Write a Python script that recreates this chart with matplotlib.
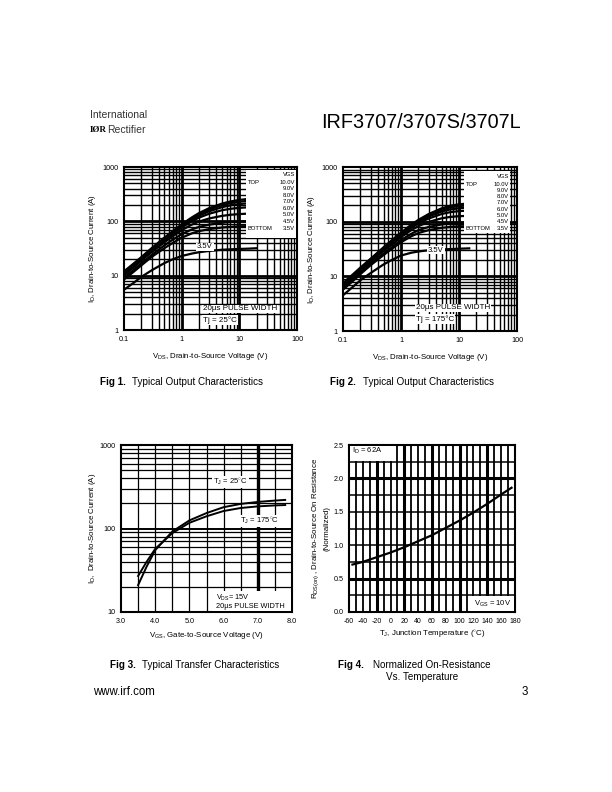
import numpy as np
import matplotlib
matplotlib.use('Agg')
import matplotlib.pyplot as plt
from matplotlib.patches import Rectangle

plt.rcParams['font.family'] = 'Liberation Sans'
plt.rcParams['mathtext.fontset'] = 'custom'
plt.rcParams['mathtext.rm'] = 'Liberation Sans'
plt.rcParams['mathtext.it'] = 'Liberation Sans'
plt.rcParams['mathtext.bf'] = 'Liberation Sans:bold'
plt.rcParams['axes.unicode_minus'] = False

# ---- data ----
vgs_labels = ['10.0V', '9.0V', '8.0V', '7.0V', '6.0V', '5.0V', '4.5V', '3.5V']

# Fig 1, Tj = 25C
vds_25c = [0.1, 0.15, 0.2, 0.3, 0.5, 0.7, 1, 1.5, 2, 3, 5, 7, 10, 15, 20]
id_25c = [
    [12, 17, 22, 32, 50, 66, 88, 118, 142, 175, 212, 232, 248, 260, 265],
    [11.5, 16.5, 21, 31, 48, 64, 85, 113, 135, 165, 198, 216, 230, 240, 244],
    [11, 16, 20.5, 30, 46, 61, 81, 107, 127, 153, 182, 197, 208, 216, 220],
    [10.5, 15.5, 20, 29, 44, 58, 77, 100, 117, 138, 160, 170, 177, 182, 185],
    [10, 14.5, 19, 27, 41, 53, 69, 87, 99, 113, 126, 132, 136, 139, 140],
    [9, 13, 17, 24, 36, 46, 58, 71, 79, 87, 94, 97, 99, 100, 101],
    [8.5, 12, 15.5, 22, 32, 40, 50, 60, 66, 72, 77, 79, 81, 82, 83],
    [5.5, 7.5, 9.5, 12.5, 17, 20, 23, 25.5, 27, 28.5, 30, 30.5, 31, 31.5, 32],
]

# Fig 2, Tj = 175C
vds_175c = [0.1, 0.15, 0.2, 0.3, 0.5, 0.7, 1, 1.5, 2, 3, 5, 7, 10, 15]
id_175c = [
    [7.5, 11, 14.5, 21, 34, 46, 63, 88, 108, 138, 175, 195, 208, 215],
    [7.2, 10.5, 14, 20.5, 33, 45, 61, 85, 104, 132, 165, 182, 193, 199],
    [7, 10.2, 13.5, 20, 32, 43, 59, 81, 99, 124, 153, 167, 176, 181],
    [6.8, 10, 13, 19.5, 31, 41, 56, 77, 93, 114, 138, 149, 156, 160],
    [6.5, 9.5, 12.5, 18.5, 29, 38, 52, 70, 83, 99, 115, 122, 126, 128],
    [6, 8.8, 11.5, 17, 26, 34, 46, 60, 70, 80, 89, 93, 95, 96],
    [5.7, 8.3, 11, 16, 24.5, 32, 42, 54, 62, 70, 77, 80, 82, 83],
    [4.5, 6.5, 8.5, 11.5, 16.5, 20, 24, 27, 28.5, 30, 31, 31.5, 32, 32.5],
]

# Fig 3, transfer characteristics
vgs_transfer = [3.5, 3.75, 4.0, 4.5, 5.0, 5.5, 6.0, 6.5, 7.0, 7.5, 7.8]
id_tj25 = [21, 35, 55, 92, 125, 153, 180, 197, 208, 216, 220]
id_tj175 = [27, 40, 57, 88, 117, 140, 162, 176, 184, 189, 191]

# Fig 4, normalized on-resistance
tj = [-55, -40, -20, 0, 20, 40, 60, 80, 100, 120, 140, 160, 175]
rds_norm = [0.71, 0.75, 0.82, 0.89, 0.97, 1.06, 1.15, 1.26, 1.37, 1.49, 1.62, 1.76, 1.86]

W, H = 612, 792
fig = plt.figure(figsize=(W / 100, H / 100), dpi=100)


def P(x, y):
    # page pixel -> figure fraction
    return x / W, 1 - y / H


def axes_px(left, top, right, bottom):
    return fig.add_axes([left / W, 1 - bottom / H, (right - left) / W, (bottom - top) / H])


def ftext(ax, x, y, s, **kw):
    kw.setdefault('fontsize', 5)
    return ax.text(*P(x, y), s, transform=fig.transFigure, va='center', **kw)


def style_box(ax):
    for sp in ax.spines.values():
        sp.set_linewidth(1.5)
    ax.tick_params(length=0, labelsize=5.2, pad=4)


def log_output(ax, vds, curves):
    ax.set_xscale('log')
    ax.set_yscale('log')
    ax.set_xlim(0.1, 100)
    ax.set_ylim(1, 1000)
    minor_x = [m * d for d in [0.1, 1, 10] for m in range(2, 10)]
    minor_y = [m * d for d in [1, 10, 100] for m in range(2, 10)]
    for v in minor_x:
        ax.axvline(v, color='k', lw=1.0, zorder=1)
    for v in [1, 10]:
        ax.axvline(v, color='k', lw=2.0, zorder=1)
    for v in minor_y:
        ax.axhline(v, color='k', lw=1.0, zorder=1)
    for v in [10, 100]:
        ax.axhline(v, color='k', lw=2.0, zorder=1)
    for row in curves:
        ax.plot(vds, row, color='k', lw=1.6, zorder=3)
    ax.set_xticks([0.1, 1, 10, 100])
    ax.set_xticklabels(['0.1', '1', '10', '100'])
    ax.set_yticks([1, 10, 100, 1000])
    ax.set_yticklabels(['1', '10', '100', '1000'])
    ax.minorticks_off()
    style_box(ax)
    ax.set_xlabel('V$_{\\mathregular{DS}}$, Drain-to-Source Voltage (V)', fontsize=5.7, labelpad=6)
    ax.set_ylabel('I$_{\\mathregular{D}}$, Drain-to-Source Current (A)', fontsize=5.7, labelpad=3)


def legend_box(ax, x0, x1, y0, y1, ys, xr):
    ax.add_patch(Rectangle(P(x0, y1), (x1 - x0) / W, (y1 - y0) / H, transform=fig.transFigure,
                           facecolor='white', edgecolor='none', zorder=5, clip_on=False))
    ftext(ax, xr, ys[0], 'VGS', ha='right', fontsize=4.2, zorder=6)
    for i, lab in enumerate(vgs_labels):
        ftext(ax, xr, ys[i + 1], lab, ha='right', fontsize=4.2, zorder=6)
    ftext(ax, x0 + 2, ys[1], 'TOP', ha='left', fontsize=4.2, zorder=6)
    ftext(ax, x0 + 1, ys[-1], 'BOTTOM', ha='left', fontsize=4.2, zorder=6)


wbox = dict(facecolor='white', edgecolor='none', pad=0.6)

# ---- Fig 1 ----
ax1 = axes_px(124, 167, 297, 330)
log_output(ax1, vds_25c, id_25c)
legend_box(ax1, 246, 296, 170, 238, [175] + list(np.linspace(182, 228, 8)), 295)
ftext(ax1, 197, 247, '3.5V', fontsize=5.5, bbox=wbox, zorder=6)
ftext(ax1, 203, 309, '20\u00b5s PULSE WIDTH', fontsize=5.8, bbox=wbox, zorder=6)
ftext(ax1, 203, 320, 'Tj = 25\u00b0C', fontsize=5.8, bbox=wbox, zorder=6)

# ---- Fig 2 ----
ax2 = axes_px(343, 167, 517, 331)
log_output(ax2, vds_175c, id_175c)
legend_box(ax2, 464, 510, 171, 233, [177] + list(np.linspace(184, 228, 8)), 509)
ftext(ax2, 428, 250, '3.5V', fontsize=5.5, bbox=wbox, zorder=6)
ftext(ax2, 416, 308, '20\u00b5s PULSE WIDTH', fontsize=5.8, bbox=wbox, zorder=6)
ftext(ax2, 416, 319, 'Tj = 175\u00b0C', fontsize=5.8, bbox=wbox, zorder=6)

# ---- Fig 3 ----
ax3 = axes_px(121, 445, 292, 612)
ax3.set_yscale('log')
ax3.set_xlim(3.0, 8.0)
ax3.set_ylim(10, 1000)
for v in np.arange(3.5, 8.0, 0.5):
    ax3.axvline(v, color='k', lw=2.4 if v == 7.0 else 0.9, zorder=1)
for v in [m * d for d in [10, 100] for m in range(2, 10)]:
    ax3.axhline(v, color='k', lw=0.9, zorder=1)
ax3.axhline(100, color='k', lw=1.4, zorder=1)
ax3.plot(vgs_transfer, id_tj25, color='k', lw=1.4, zorder=3)
ax3.plot(vgs_transfer, id_tj175, color='k', lw=1.4, zorder=3)
ax3.set_xticks(np.arange(3.0, 8.01, 1.0))
ax3.set_xticklabels(['3.0', '4.0', '5.0', '6.0', '7.0', '8.0'])
ax3.set_yticks([10, 100, 1000])
ax3.set_yticklabels(['10', '100', '1000'])
ax3.minorticks_off()
style_box(ax3)
ax3.set_xlabel('V$_{\\mathregular{GS}}$, Gate-to-Source Voltage (V)', fontsize=5.7, labelpad=4)
ax3.set_ylabel('I$_{\\mathregular{D}}$,  Drain-to-Source Current (A)', fontsize=5.7, labelpad=1)
ftext(ax3, 213, 482, 'T$_{\\mathregular{J}}$ = 25$^{\\circ}$C', fontsize=5.5, bbox=wbox, zorder=6)
ftext(ax3, 240, 521, 'T$_{\\mathregular{J}}$ = 175$^{\\circ}$C', fontsize=5.5, bbox=wbox, zorder=6)
ax3.add_patch(Rectangle(P(212, 611), 79 / W, 20 / H, transform=fig.transFigure,
                        facecolor='white', edgecolor='none', zorder=5, clip_on=False))
ftext(ax3, 216, 598, 'V$_{\\mathregular{DS}}$= 15V', fontsize=5.3, zorder=6)
ftext(ax3, 216, 607, '20\u00b5s PULSE WIDTH', fontsize=5.3, zorder=6)

# ---- Fig 4 ----
ax4 = axes_px(349, 445, 515, 612)
ax4.set_xlim(-60, 180)
ax4.set_ylim(0, 2.5)
for v in range(-50, 180, 10):
    ax4.axvline(v, color='k', lw=2.2 if v in (-20, 20, 60, 100, 140) else 1.3, zorder=1)
for v in np.arange(0.25, 2.5, 0.25):
    ax4.axhline(v, color='k', lw=2.2 if v in (0.5, 2.0) else 1.1, zorder=1)
ax4.plot(tj, rds_norm, color='k', lw=1.6, zorder=3)
ax4.set_xticks(range(-60, 181, 20))
ax4.set_yticks(np.arange(0, 2.51, 0.5))
ax4.set_yticklabels(['0.0', '0.5', '1.0', '1.5', '2.0', '2.5'])
style_box(ax4)
ax4.tick_params(axis='x', labelsize=5.0)
ax4.set_xlabel('T$_{\\mathregular{J}}$, Junction Temperature ($^{\\circ}$C)', fontsize=5.7, labelpad=3)
ax4.set_ylabel('R$_{\\mathregular{DS(on)}}$ , Drain-to-Source On Resistance\n(Normalized)',
               fontsize=5.7, labelpad=2, linespacing=1.5)
ax4.add_patch(Rectangle(P(350, 461), 45 / W, 15 / H, transform=fig.transFigure,
                        facecolor='white', edgecolor='none', zorder=5, clip_on=False))
ftext(ax4, 352, 451, 'I$_{\\mathregular{D}}$ = 62A', fontsize=5.5, zorder=6)
ax4.add_patch(Rectangle(P(470, 611), 44 / W, 15 / H, transform=fig.transFigure,
                        facecolor='white', edgecolor='none', zorder=5, clip_on=False))
ftext(ax4, 474, 604, 'V$_{\\mathregular{GS}}$ = 10V', fontsize=5.5, zorder=6)

# ---- page text ----
fig.text(*P(90, 115), 'International', fontsize=7.5, color='#333333', va='center')
fig.text(*P(90, 130), 'I\u00d8R', fontsize=6.5, fontweight='bold', family='Liberation Serif', va='center')
fig.text(*P(107, 130), 'Rectifier', fontsize=7.5, color='#333333', va='center')
fig.text(*P(321, 123), 'IRF3707/3707S/3707L', fontsize=14.3, va='center')

caps = [
    (100, 382, 'Fig 1.', 132, 'Typical Output Characteristics'),
    (330, 382, 'Fig 2.', 363, 'Typical Output Characteristics'),
    (110, 665, 'Fig 3.', 142, 'Typical Transfer Characteristics'),
    (338, 665, 'Fig 4.', 373, 'Normalized On-Resistance'),
]
for xb, y, b, xr, s in caps:
    fig.text(*P(xb, y), b, fontsize=7.1, fontweight='bold', va='center')
    fig.text(*P(xr, y), s, fontsize=7.1, va='center')
fig.text(*P(386, 677), 'Vs. Temperature', fontsize=7.1, va='center')
fig.text(*P(93, 692), 'www.irf.com', fontsize=8.3, va='center')
fig.text(*P(522, 692), '3', fontsize=8.3, va='center')

fig.savefig('out.png', dpi=100)
